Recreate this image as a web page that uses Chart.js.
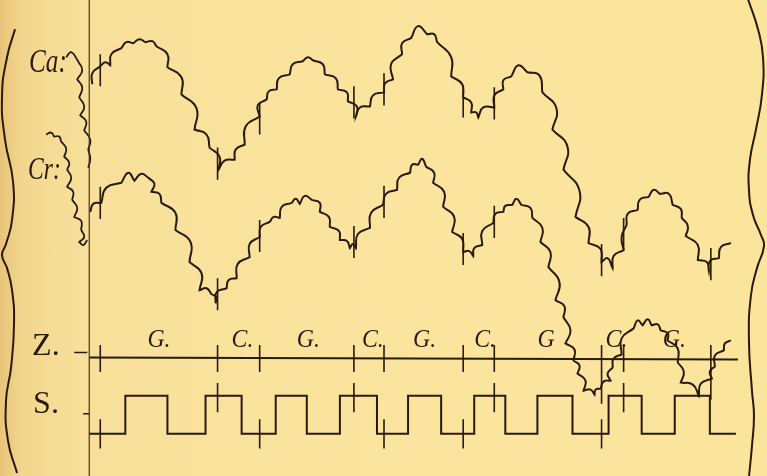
<!DOCTYPE html>
<html>
<head>
<meta charset="utf-8">
<title>Ca / Cr / Z / S</title>
<script src="https://cdn.jsdelivr.net/npm/chart.js@4.4.1/dist/chart.umd.min.js"></script>
<style>
    html, body { margin: 0; padding: 0; overflow: hidden; }
    body {
        position: relative;
        width: 767px; height: 476px;
        background: linear-gradient(90deg, #e8c47a 0px, #f2d68d 22px, #f8e09a 80px, #fbe59e 420px, #fbe49c 767px);
    }
    /* the line controller keeps a 1px margin round the plot; shift it back */
    canvas { display: block; position: absolute; left: -1px; top: -1px; }
</style>
</head>
<body>
<canvas id="tracing" width="769" height="478"></canvas>
<script>
// time runs left to right, deflection is read downward from the top edge
// scalloped traces: points alternate cusp / arc top, first and last are cusps
var caLead = [[67,58],[72,53],[79,62],[83,71],[78,80],[83,88],[80,98],[85,107],[81,116],[87,122],[85,131],[91,140],[89,150],[91,159],[89,168]];
var caTrace = [[93,85],[93,74],[101,67],[106,63],[111,66],[112,55],[122,49],[127,43],[134,44],[140,40],[146,43],[153,42],[157,47],
    [168,55],[168,68],[182,78],[182,95],[197,109],[195,130],[207,135],[210,148],[220,157],[219,170],[225,161],[235,160],[236,150],
    [245,145],[246,127],[260,117],[258,106],[267,100],[269,92],[277,90],[279,79],[290,75],[293,65],[303,62],[308,58],[313,61],[323,65],
    [325,75],[336,79],[338,90],[347,93],[348,102],[357,107],[356,117],[360,108],[370,107],[373,96],[384,93],[385,84],[393,80],[391,65],
    [402,55],[402,44],[411,39],[418,27],[427,35],[434,35],[437,43],[451,58],[451,77],[462,85],[463,98],[471,103],[471,113],[476,113],
    [478,118],[483,108],[494,108],[494,96],[503,90],[503,81],[511,77],[518,66],[527,73],[539,76],[542,93],[556,109],[552,130],[567,147],
    [563,170],[579,191],[575,217],[588,227],[588,243],[600,249],[601,262],[607,258],[612,268],[613,256],[623,250],[621,237],[626,225],
    [627,214],[637,210],[639,200],[648,197],[653,190],[659,194],[668,194],[672,205],[680,209],[681,218],[687,226],[685,236],[697,245],
    [697,260],[706,262],[708,271],[709,261],[718,258],[720,247],[730,243]];
var crLead = [[47,135],[52,133],[55,137],[60,137],[62,142],[67,149],[65,157],[70,163],[68,170],[72,178],[68,187],[74,192],[73,200],
    [78,208],[75,217],[82,221],[82,230],[85,237],[80,242],[84,245],[88,240]];
var crTrace = [[91,212],[94,204],[102,203],[107,188],[122,183],[129,173],[135,181],[142,174],[149,178],[155,184],[152,192],[160,194],
    [162,203],[176,213],[176,230],[191,242],[190,262],[202,273],[200,290],[207,288],[212,294],[217,297],[216,303],[217,292],[227,288],
    [229,280],[237,278],[238,264],[250,257],[250,244],[260,237],[261,227],[270,222],[274,217],[280,218],[282,207],[292,203],[296,199],
    [300,204],[305,196],[312,200],[320,203],[320,212],[329,217],[330,227],[339,231],[340,240],[347,241],[350,248],[353,244],[356,248],
    [358,234],[370,228],[371,213],[383,205],[386,194],[397,190],[399,178],[410,173],[412,165],[418,165],[422,159],[426,167],[434,173],
    [433,183],[444,192],[443,207],[454,217],[452,232],[462,239],[463,252],[469,251],[473,256],[474,248],[482,245],[482,231],[493,223],
    [495,214],[503,212],[505,206],[512,205],[516,199],[521,205],[530,208],[532,218],[542,228],[540,242],[550,252],[548,267],[559,282],
    [555,300],[564,306],[563,317],[570,330],[565,343],[574,349],[573,360],[579,365],[577,373],[585,380],[583,390],[590,389],[594,394],
    [595,389],[600,388],[603,381],[610,380],[607,373],[612,367],[613,358],[621,354],[621,338],[633,328],[637,320],[642,325],[647,319],
    [651,325],[657,324],[660,330],[667,333],[667,340],[677,348],[677,362],[683,371],[680,382],[692,384],[698,395],[700,383],[711,378],
    [709,371],[714,366],[714,355],[723,350],[724,343],[730,340]];

// cross-marks at the same instants on every record
var eventTimes = [101, 218, 260, 354, 384, 463, 494, 601, 623, 710];
var caMarks = [71, 164, 119, 103, 90, 102, 104, 260, 234, 264];
var crMarks = [203, 294, 236, 242, 202, 249, 222, 387, null, 383];
var zMarks = [358, 358, 358, 358, 358, 358, 358, 358, 358, 358];
var sMarks = [433, 397, 433, 397, 433, 433, 397, 433, 397, null];

// Z: time line with the phase letters
var zTimes = [90, 737];
var zLevels = [357, 359];
var zPhases = ['G.', 'C.', 'G.', 'C.', 'G.', 'C.', 'G', 'C.', 'G.'];
var zPhaseTimes = [148, 232, 297, 362, 413, 474, 537, 605, 662];

// S: signal, level changes at these times
var sTimes = [90, 126, 168, 206, 242, 276, 307, 340, 377, 408, 441, 474, 505, 537, 572, 608, 641, 674, 709, 735];
var sLevels = [433, 395, 433, 395, 433, 395, 433, 395, 433, 395, 433, 395, 433, 395, 433, 395, 433, 395, 433, 433];

// frame: base line and the two braces
var baseLine = [[90,0],[90,476]];
var leftBrace = [[16,30],[8,58],[3,97],[6,140],[14,182],[13,220],[7,244],[3,255],[8,268],[13,290],[15,323],[12,367],[7,400],[9,440],[18,472]];
var rightBrace = [[747,0],[757,30],[762,58],[761,95],[755,130],[749,160],[748,190],[752,215],[760,235],[763,246],[756,268],
    [750,295],[748,340],[751,390],[753,415],[751,445],[748,476]];

var INK = '#2a1a0e';
var SERIF = '"Liberation Serif", "DejaVu Serif", serif';

var Tracing = (function () {
    var Tracing = function () {

        var elem = 'tracing';

        var toXY = function (pts) {
            return pts.map(function (p) { return {x: p[0], y: p[1]}; });
        };

        // doubling every cusp keeps the corner sharp between two arcs
        var scallops = function (pts) {
            var out = [];
            pts.forEach(function (p, i) {
                out.push({x: p[0], y: p[1]});
                if (i % 2 === 0) {
                    out.push({x: p[0], y: p[1]});
                }
            });
            return out;
        };

        var pairs = function (xs, ys) {
            return xs.map(function (x, i) { return {x: x, y: ys[i]}; });
        };

        // each mark is a short upright stroke, broken from the next by a gap
        var strokes = function (ys, half) {
            var out = [];
            eventTimes.forEach(function (t, i) {
                if (ys[i] === null) return;
                out.push({x: t, y: ys[i] - half}, {x: t, y: ys[i] + half}, {x: t, y: null});
            });
            return out;
        };

        var curve = function (data, width) {
            return {
                data: data,
                borderColor: INK,
                borderWidth: width,
                tension: 0.5,
                pointRadius: 0,
                fill: false
            };
        };

        var straight = function (data, width, color) {
            return {
                data: data,
                borderColor: color || INK,
                borderWidth: width,
                tension: 0,
                pointRadius: 0,
                fill: false,
                spanGaps: false
            };
        };

        var lettering = {
            id: 'lettering',
            afterDatasetsDraw: function (chart) {
                var ctx = chart.ctx;
                var sx = chart.scales.x, sy = chart.scales.y;
                var put = function (text, x, y, font, squeeze) {
                    ctx.save();
                    ctx.translate(sx.getPixelForValue(x), sy.getPixelForValue(y));
                    ctx.scale(squeeze, 1);
                    ctx.font = font;
                    ctx.fillText(text, 0, 0);
                    ctx.restore();
                };
                ctx.save();
                ctx.fillStyle = INK;
                ctx.strokeStyle = INK;
                ctx.textAlign = 'left';
                ctx.textBaseline = 'alphabetic';

                put('Ca:', 30, 73, 'italic 34px ' + SERIF, 0.74);
                put('Cr:', 29, 179, 'italic 31px ' + SERIF, 0.76);
                put('Z.', 33, 355, '32px ' + SERIF, 1);
                put('S.', 34, 412, '32px ' + SERIF, 1);

                zPhases.forEach(function (t, i) {
                    put(t, zPhaseTimes[i], 347, 'italic 25px ' + SERIF, 0.95);
                });

                // little lead dashes before Z and S
                ctx.lineWidth = 1.5;
                ctx.beginPath();
                ctx.moveTo(sx.getPixelForValue(75), sy.getPixelForValue(352));
                ctx.lineTo(sx.getPixelForValue(88), sy.getPixelForValue(352));
                ctx.moveTo(sx.getPixelForValue(84), sy.getPixelForValue(413));
                ctx.lineTo(sx.getPixelForValue(90), sy.getPixelForValue(413));
                ctx.stroke();
                ctx.restore();
            }
        };

        var init = function () {
            new Chart(elem, {
                type: 'line',
                data: {
                    datasets: [
                        straight(toXY(baseLine), 1.2, '#4a3520'),
                        curve(toXY(leftBrace), 2),
                        curve(toXY(rightBrace), 2),
                        straight(pairs(zTimes, zLevels), 1.8),
                        Object.assign(straight(pairs(sTimes, sLevels), 2), {stepped: 'before'}),
                        curve(scallops(caLead), 1.8),
                        curve(scallops(caTrace), 2),
                        curve(scallops(crLead), 1.8),
                        curve(scallops(crTrace), 2),
                        straight(strokes(caMarks, 16), 1.6),
                        straight(strokes(crMarks, 16), 1.6),
                        straight(strokes(zMarks, 13.5), 1.6),
                        straight(strokes(sMarks, 14.5), 1.6)
                    ]
                },
                options: {
                    responsive: false,
                    animation: false,
                    events: [],
                    layout: { padding: 0 },
                    plugins: {
                        legend: { display: false },
                        tooltip: { enabled: false }
                    },
                    scales: {
                        x: { type: 'linear', min: 0, max: 767, display: false },
                        y: { type: 'linear', min: 0, max: 476, reverse: true, display: false }
                    }
                },
                plugins: [lettering]
            });
        };

        init();
        return {};
    };

    return Tracing;
})();

Tracing();
</script>
</body>
</html>
